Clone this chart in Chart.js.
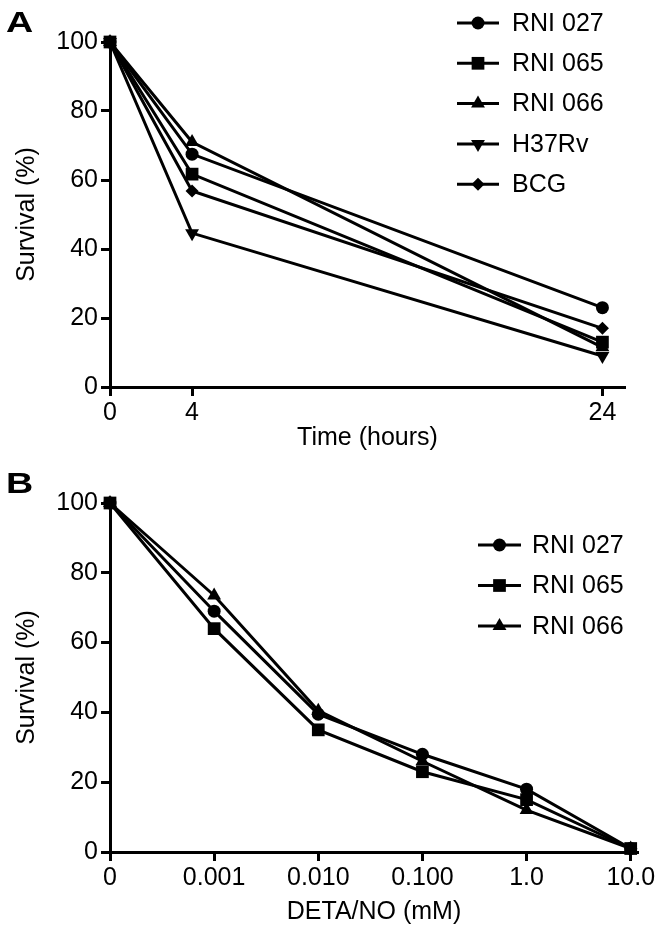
<!DOCTYPE html>
<html>
<head>
<meta charset="utf-8">
<script src="https://cdn.jsdelivr.net/npm/chart.js@4/dist/chart.umd.min.js"></script>
<style>
  html, body { margin: 0; padding: 0; background: #fff; }
  #wrap { position: relative; width: 658px; height: 934px; font-family: "Liberation Sans", Arial, sans-serif; }
  .panel { position: absolute; left: 0; width: 658px; }
  #boxA { top: 0; height: 465px; }
  #boxB { top: 465px; height: 469px; }
  .letter { position: absolute; font-weight: bold; font-size: 29px; line-height: 1; color: #000;
            transform: scaleX(1.3); transform-origin: left top; }
</style>
</head>
<body>
<div id="wrap">
  <div class="panel" id="boxA"><canvas id="chartA"></canvas></div>
  <div class="panel" id="boxB"><canvas id="chartB"></canvas></div>
  <div class="letter" style="left:6px; top:8px;">A</div>
  <div class="letter" style="left:6px; top:469px;">B</div>
</div>
<script>
// panel A : survival over time
const timeHours = [0, 4, 24];
const timeTicks = [0, 4, 24];
const rni027A = [100, 67.5, 23];
const rni065A = [100, 61.7, 13];
const rni066A = [100, 71, 11.5];
const h37rvA  = [100, 44.6, 9];
const bcgA    = [100, 56.8, 17];

// panel B : survival vs DETA/NO dose
const detaLabels = ['0', '0.001', '0.010', '0.100', '1.0', '10.0'];
const rni027B = [100, 69, 39.5, 28, 18, 1];
const rni065B = [100, 64, 35, 23, 15, 1];
const rni066B = [100, 73.5, 40.5, 26, 12, 1];

const FONT = '"Liberation Sans", Arial, sans-serif';
Chart.defaults.font.family = FONT;
Chart.defaults.font.size = 25;
Chart.defaults.color = '#000';

// legend drawn as line + marker, like the figure
const lineLegend = {
  id: 'lineLegend',
  afterDraw(chart, args, o) {
    const ctx = chart.ctx;
    ctx.save();
    chart.data.datasets.forEach((ds, i) => {
      const y = o.top + i * o.step;
      ctx.strokeStyle = '#000';
      ctx.lineWidth = 3;
      ctx.beginPath();
      ctx.moveTo(o.left, y);
      ctx.lineTo(o.left + o.len, y);
      ctx.stroke();
      ctx.fillStyle = '#000';
      Chart.helpers.drawPoint(ctx, {
        pointStyle: ds.pointStyle,
        rotation: ds.pointRotation || 0,
        radius: ds.pointRadius,
        borderWidth: 0
      }, o.left + o.len / 2, y);
      ctx.font = '25px ' + FONT;
      ctx.textBaseline = 'middle';
      ctx.textAlign = 'left';
      ctx.fillText(ds.label, o.left + o.len + o.gap, y + 1);
    });
    ctx.restore();
  }
};

function line(label, xs, ys, style, radius, rot) {
  return {
    label: label,
    data: xs.map((x, i) => ({x: x, y: ys[i]})),
    borderColor: '#000',
    backgroundColor: '#000',
    borderWidth: 3,
    pointStyle: style,
    pointRadius: radius,
    pointRotation: rot || 0,
    pointBackgroundColor: '#000',
    pointBorderWidth: 0,
    tension: 0,
    clip: false
  };
}

function axisX(title, max, ticks, labelFn, height, titlePad) {
  return {
    type: 'linear', min: 0, max: max,
    afterBuildTicks: s => { s.ticks = ticks.map(v => ({value: v})); },
    afterFit: s => { s.height = height; },
    ticks: { padding: 2, maxRotation: 0, callback: labelFn },
    grid: { drawOnChartArea: false, tickLength: 9, tickWidth: 3, tickColor: '#000' },
    border: { color: '#000', width: 3 },
    title: { display: true, text: title, font: {size: 25}, padding: {top: 0, bottom: titlePad} }
  };
}

const axisY = {
  min: 0, max: 100,
  afterFit: s => { s.width = 110; },
  ticks: { stepSize: 20, padding: 3 },
  grid: { drawOnChartArea: false, tickLength: 9, tickWidth: 3, tickColor: '#000' },
  border: { color: '#000', width: 3 },
  title: { display: true, text: 'Survival (%)', font: {size: 25}, padding: {top: 12, bottom: 0} }
};

new Chart(document.getElementById('chartA'), {
  type: 'line',
  data: {
    datasets: [
      line('RNI 027', timeHours, rni027A, 'circle', 6.5),
      line('RNI 065', timeHours, rni065A, 'rect', 9),
      line('RNI 066', timeHours, rni066A, 'triangle', 8),
      line('H37Rv', timeHours, h37rvA, 'triangle', 8, 180),
      line('BCG', timeHours, bcgA, 'rectRot', 6.5)
    ]
  },
  options: {
    responsive: true, maintainAspectRatio: false, animation: false, devicePixelRatio: 1,
    layout: { padding: {top: 42, right: 33, left: 0, bottom: 0} },
    plugins: {
      legend: { display: false }, tooltip: { enabled: false },
      lineLegend: { left: 457, top: 23, step: 40.3, len: 42, gap: 13 }
    },
    scales: {
      x: axisX('Time (hours)', 25.1, timeTicks, v => String(v), 78, 12),
      y: axisY
    }
  },
  plugins: [lineLegend]
});

const detaX = detaLabels.map((l, i) => i);
new Chart(document.getElementById('chartB'), {
  type: 'line',
  data: {
    datasets: [
      line('RNI 027', detaX, rni027B, 'circle', 6.5),
      line('RNI 065', detaX, rni065B, 'rect', 9),
      line('RNI 066', detaX, rni066B, 'triangle', 8)
    ]
  },
  options: {
    responsive: true, maintainAspectRatio: false, animation: false, devicePixelRatio: 1,
    layout: { padding: {top: 38, right: 20, left: 0, bottom: 0} },
    plugins: {
      legend: { display: false }, tooltip: { enabled: false },
      lineLegend: { left: 478, top: 80, step: 40.5, len: 43, gap: 11 }
    },
    scales: {
      x: axisX('DETA/NO (mM)', 5.07, detaX, v => detaLabels[v], 82, 7),
      y: axisY
    }
  },
  plugins: [lineLegend]
});
</script>
</body>
</html>
